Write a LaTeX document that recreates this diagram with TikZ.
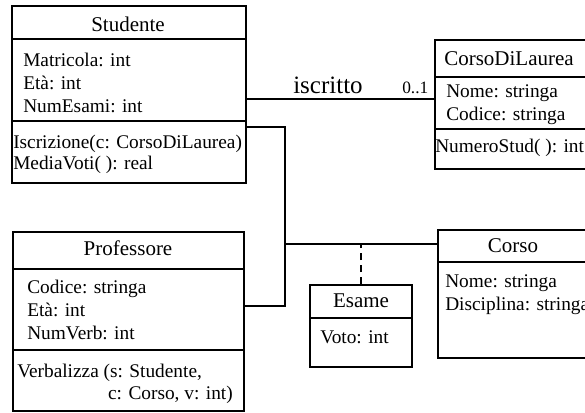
\documentclass[tikz,border=0pt]{standalone}
\usepackage{fontspec}
\setmainfont{Liberation Serif}
\begin{document}
\begin{tikzpicture}[x=0.75pt,y=-0.75pt,
  classbox/.style={draw, line width=1.5pt, inner sep=0pt, anchor=north west},
  sep/.style={line width=1.5pt},
  conn/.style={line width=1.2pt},
  title/.style={inner sep=0pt, anchor=base, font=\fontsize{15.75}{18}\selectfont},
  attr/.style={inner sep=0pt, anchor=base west, font=\fontsize{14.5}{17}\selectfont},
  attrr/.style={inner sep=0pt, anchor=base east, font=\fontsize{14.5}{17}\selectfont},
  assoc/.style={inner sep=0pt, anchor=base west, font=\fontsize{18.75}{21}\selectfont},
  mult/.style={inner sep=0pt, anchor=base west, font=\fontsize{13}{15}\selectfont}]
\useasboundingbox (0,0) rectangle (585,412);

% Studente
\node[classbox, minimum width=175.5pt, minimum height=132.75pt] (stud) at (11,5) {};
\draw[sep] (stud.west |- 0,39) -- (stud.east |- 0,39);
\draw[sep] (stud.west |- 0,121) -- (stud.east |- 0,121);
\node[title] (studT) at (128,31) {Studente};
\node[attr] (studA1) at (23,66.5) {Matricola: int};
\node[attr] (studA2) at (23,89) {Età: int};
\node[attr] (studA3) at (23,112) {NumEsami: int};
\node[attr] (studM1) at (13,148) {Iscrizione(c: CorsoDiLaurea)};
\node[attr] (studM2) at (13,169) {MediaVoti( ): real};

% CorsoDiLaurea
\node[classbox, minimum width=124.5pt, minimum height=96.75pt] (cdl) at (434,39) {};
\draw[sep] (cdl.west |- 0,77) -- (cdl.east |- 0,77);
\draw[sep] (cdl.west |- 0,129) -- (cdl.east |- 0,129);
\node[attr, font=\fontsize{15.75}{18}\selectfont] (cdlT) at (444,65) {CorsoDiLaurea};
\node[attr] (cdlA1) at (446,97) {Nome: stringa};
\node[attr] (cdlA2) at (446,120) {Codice: stringa};
\node[attr] (cdlM1) at (435,152) {NumeroStud( ): int};

% Professore
\node[classbox, minimum width=173.25pt, minimum height=134.25pt] (prof) at (12,231) {};
\draw[sep] (prof.west |- 0,269) -- (prof.east |- 0,269);
\draw[sep] (prof.west |- 0,350) -- (prof.east |- 0,350);
\node[title] (profT) at (128,255) {Professore};
\node[attr] (profA1) at (27,293) {Codice: stringa};
\node[attr] (profA2) at (27,316) {Età: int};
\node[attr] (profA3) at (27,339) {NumVerb: int};
\node[attr] (profM1) at (17,377) {Verbalizza (s: Studente,};
\node[attrr] (profM2) at (233,399) {c: Corso, v: int)};

% Corso
\node[classbox, minimum width=122.25pt, minimum height=96pt] (corso) at (437,229) {};
\draw[sep] (corso.west |- 0,262) -- (corso.east |- 0,262);
\node[title] (corsoT) at (513,252) {Corso};
\node[attr] (corsoA1) at (445,287) {Nome: stringa};
\node[attr] (corsoA2) at (445,310) {Disciplina: stringa};

% Esame
\node[classbox, minimum width=76.5pt, minimum height=61.5pt] (esame) at (309,284) {};
\draw[sep] (esame.west |- 0,318) -- (esame.east |- 0,318);
\node[title] (esameT) at (361,307) {Esame};
\node[attr] (esameA1) at (320,343) {Voto: int};

% connectors
\draw[conn] (stud.east |- 0,99) -- (cdl.west |- 0,99);
\node[assoc] (isc) at (293,93) {iscritto};
\node[mult] (m01) at (402,93) {0..1};

\coordinate (j) at (285,244);
\draw[conn] (stud.east |- 0,127) -| (j) |- (prof.east |- 0,306);
\draw[conn] (j) -- (corso.west |- j);
\draw[conn, dash pattern=on 5.5pt off 3.5pt] (esame.north) -- (esame.north |- j);
\end{tikzpicture}
\end{document}
